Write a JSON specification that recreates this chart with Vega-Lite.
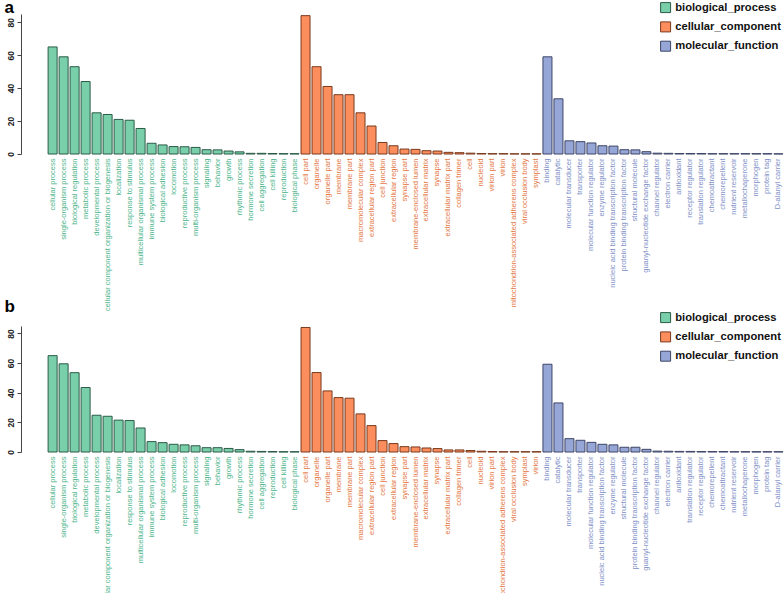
{
  "$schema": "https://vega.github.io/schema/vega-lite/v6.json",
  "background": "white",
  "padding": {"left": 4, "top": -2, "right": 0, "bottom": 0},
  "bounds": "flush",
  "spacing": 172,
  "config": {
    "view": {"stroke": null},
    "font": "Liberation Sans",
    "legend": {
      "orient": "none", "legendX": 613, "symbolType": "square", "symbolSize": 100,
      "labelFontSize": 11.2, "labelFont": "Liberation Sans", "labelFontWeight": "bold", "labelColor": "#111",
      "rowPadding": 4.3, "symbolStrokeColor": "#444", "symbolStrokeWidth": 1, "symbolOpacity": 1, "labelOffset": 4
    },
    "axisX": {
      "labelAngle": -90, "labelFontSize": 7.5, "labelFont": "Liberation Sans", "labelPadding": 4,
      "ticks": false, "domain": false, "title": null, "labelLimit": 0, "labelOverlap": false, "grid": false,
      "labelColor": {"condition": [
        {"test": "indexof(['cellular process','single-organism process','biological regulation','metabolic process','developmental process','cellular component organization or biogenesis','localization','response to stimulus','multicellular organismal process','immune system process','biological adhesion','locomotion','reproductive process','multi-organism process','signaling','behavior','growth','rhythmic process','hormone secretion','cell aggregation','cell killing','reproduction','biological phase'], datum.value) >= 0", "value": "#4DB58B"},
        {"test": "indexof(['cell part','organelle','organelle part','membrane','membrane part','macromolecular complex','extracellular region part','cell junction','extracellular region','synapse part','membrane-enclosed lumen','extracellular matrix','synapse','extracellular matrix part','collagen trimer','cell','nucleoid','virion part','virion','mitochondrion-associated adherens complex','viral occlusion body','symplast'], datum.value) >= 0", "value": "#E4773F"}
      ], "value": "#8191C8"}
    }
  },
  "datasets": {
    "a": [
      {"term": "cellular process", "ontology": "biological_process", "count": 65},
      {"term": "single-organism process", "ontology": "biological_process", "count": 59},
      {"term": "biological regulation", "ontology": "biological_process", "count": 53},
      {"term": "metabolic process", "ontology": "biological_process", "count": 44},
      {"term": "developmental process", "ontology": "biological_process", "count": 25},
      {"term": "cellular component organization or biogenesis", "ontology": "biological_process", "count": 24},
      {"term": "localization", "ontology": "biological_process", "count": 21},
      {"term": "response to stimulus", "ontology": "biological_process", "count": 20.5},
      {"term": "multicellular organismal process", "ontology": "biological_process", "count": 15.5},
      {"term": "immune system process", "ontology": "biological_process", "count": 6.5},
      {"term": "biological adhesion", "ontology": "biological_process", "count": 5.5},
      {"term": "locomotion", "ontology": "biological_process", "count": 4.5},
      {"term": "reproductive process", "ontology": "biological_process", "count": 4.4},
      {"term": "multi-organism process", "ontology": "biological_process", "count": 4},
      {"term": "signaling", "ontology": "biological_process", "count": 2.6},
      {"term": "behavior", "ontology": "biological_process", "count": 2.5},
      {"term": "growth", "ontology": "biological_process", "count": 1.8},
      {"term": "rhythmic process", "ontology": "biological_process", "count": 1.3},
      {"term": "hormone secretion", "ontology": "biological_process", "count": 0.4},
      {"term": "cell aggregation", "ontology": "biological_process", "count": 0.4},
      {"term": "cell killing", "ontology": "biological_process", "count": 0.3},
      {"term": "reproduction", "ontology": "biological_process", "count": 0.2},
      {"term": "biological phase", "ontology": "biological_process", "count": 0.2},
      {"term": "cell part", "ontology": "cellular_component", "count": 84},
      {"term": "organelle", "ontology": "cellular_component", "count": 53},
      {"term": "organelle part", "ontology": "cellular_component", "count": 41},
      {"term": "membrane", "ontology": "cellular_component", "count": 36},
      {"term": "membrane part", "ontology": "cellular_component", "count": 36},
      {"term": "macromolecular complex", "ontology": "cellular_component", "count": 25},
      {"term": "extracellular region part", "ontology": "cellular_component", "count": 17},
      {"term": "cell junction", "ontology": "cellular_component", "count": 7},
      {"term": "extracellular region", "ontology": "cellular_component", "count": 5},
      {"term": "synapse part", "ontology": "cellular_component", "count": 3},
      {"term": "membrane-enclosed lumen", "ontology": "cellular_component", "count": 2.8},
      {"term": "extracellular matrix", "ontology": "cellular_component", "count": 2},
      {"term": "synapse", "ontology": "cellular_component", "count": 1.8},
      {"term": "extracellular matrix part", "ontology": "cellular_component", "count": 1},
      {"term": "collagen trimer", "ontology": "cellular_component", "count": 0.8},
      {"term": "cell", "ontology": "cellular_component", "count": 0.5},
      {"term": "nucleoid", "ontology": "cellular_component", "count": 0.3},
      {"term": "virion part", "ontology": "cellular_component", "count": 0.2},
      {"term": "virion", "ontology": "cellular_component", "count": 0.2},
      {"term": "mitochondrion-associated adherens complex", "ontology": "cellular_component", "count": 0.1},
      {"term": "viral occlusion body", "ontology": "cellular_component", "count": 0.1},
      {"term": "symplast", "ontology": "cellular_component", "count": 0.1},
      {"term": "binding", "ontology": "molecular_function", "count": 59},
      {"term": "catalytic", "ontology": "molecular_function", "count": 33.5},
      {"term": "molecular transducer", "ontology": "molecular_function", "count": 8},
      {"term": "transporter", "ontology": "molecular_function", "count": 7.5},
      {"term": "molecular function regulator", "ontology": "molecular_function", "count": 6.7},
      {"term": "enzyme regulator", "ontology": "molecular_function", "count": 5},
      {"term": "nucleic acid binding transcription factor", "ontology": "molecular_function", "count": 4.8},
      {"term": "protein binding transcription factor", "ontology": "molecular_function", "count": 2.6},
      {"term": "structural molecule", "ontology": "molecular_function", "count": 2.5},
      {"term": "guanyl-nucleotide exchange factor", "ontology": "molecular_function", "count": 1.4},
      {"term": "channel regulator", "ontology": "molecular_function", "count": 0.5},
      {"term": "electron carrier", "ontology": "molecular_function", "count": 0.4},
      {"term": "antioxidant", "ontology": "molecular_function", "count": 0.3},
      {"term": "receptor regulator", "ontology": "molecular_function", "count": 0.3},
      {"term": "translation regulator", "ontology": "molecular_function", "count": 0.3},
      {"term": "chemoattractant", "ontology": "molecular_function", "count": 0.2},
      {"term": "chemorepellent", "ontology": "molecular_function", "count": 0.2},
      {"term": "nutrient reservoir", "ontology": "molecular_function", "count": 0.2},
      {"term": "metallochaperone", "ontology": "molecular_function", "count": 0.2},
      {"term": "morphogen", "ontology": "molecular_function", "count": 0.2},
      {"term": "protein tag", "ontology": "molecular_function", "count": 0.2},
      {"term": "D-alanyl carrier", "ontology": "molecular_function", "count": 0.1}
    ],
    "b": [
      {"term": "cellular process", "ontology": "biological_process", "count": 65},
      {"term": "single-organism process", "ontology": "biological_process", "count": 59.5},
      {"term": "biological regulation", "ontology": "biological_process", "count": 53.5},
      {"term": "metabolic process", "ontology": "biological_process", "count": 43.5},
      {"term": "developmental process", "ontology": "biological_process", "count": 24.8},
      {"term": "cellular component organization or biogenesis", "ontology": "biological_process", "count": 24.1},
      {"term": "localization", "ontology": "biological_process", "count": 21.5},
      {"term": "response to stimulus", "ontology": "biological_process", "count": 21.2},
      {"term": "multicellular organismal process", "ontology": "biological_process", "count": 16.2},
      {"term": "immune system process", "ontology": "biological_process", "count": 7},
      {"term": "biological adhesion", "ontology": "biological_process", "count": 6.3},
      {"term": "locomotion", "ontology": "biological_process", "count": 5.2},
      {"term": "reproductive process", "ontology": "biological_process", "count": 4.8},
      {"term": "multi-organism process", "ontology": "biological_process", "count": 4.2},
      {"term": "signaling", "ontology": "biological_process", "count": 2.9},
      {"term": "behavior", "ontology": "biological_process", "count": 2.9},
      {"term": "growth", "ontology": "biological_process", "count": 2.4},
      {"term": "rhythmic process", "ontology": "biological_process", "count": 1.6},
      {"term": "hormone secretion", "ontology": "biological_process", "count": 0.5},
      {"term": "cell aggregation", "ontology": "biological_process", "count": 0.4},
      {"term": "reproduction", "ontology": "biological_process", "count": 0.3},
      {"term": "cell killing", "ontology": "biological_process", "count": 0.2},
      {"term": "biological phase", "ontology": "biological_process", "count": 0.2},
      {"term": "cell part", "ontology": "cellular_component", "count": 84},
      {"term": "organelle", "ontology": "cellular_component", "count": 53.6},
      {"term": "organelle part", "ontology": "cellular_component", "count": 41.2},
      {"term": "membrane", "ontology": "cellular_component", "count": 36.7},
      {"term": "membrane part", "ontology": "cellular_component", "count": 36.3},
      {"term": "macromolecular complex", "ontology": "cellular_component", "count": 25.7},
      {"term": "extracellular region part", "ontology": "cellular_component", "count": 17.8},
      {"term": "cell junction", "ontology": "cellular_component", "count": 7.7},
      {"term": "extracellular region", "ontology": "cellular_component", "count": 5.7},
      {"term": "synapse part", "ontology": "cellular_component", "count": 3.6},
      {"term": "membrane-enclosed lumen", "ontology": "cellular_component", "count": 3.4},
      {"term": "extracellular matrix", "ontology": "cellular_component", "count": 2.7},
      {"term": "synapse", "ontology": "cellular_component", "count": 2.3},
      {"term": "extracellular matrix part", "ontology": "cellular_component", "count": 1.4},
      {"term": "collagen trimer", "ontology": "cellular_component", "count": 1.4},
      {"term": "cell", "ontology": "cellular_component", "count": 1},
      {"term": "nucleoid", "ontology": "cellular_component", "count": 0.5},
      {"term": "virion part", "ontology": "cellular_component", "count": 0.3},
      {"term": "mitochondrion-associated adherens complex", "ontology": "cellular_component", "count": 0.2},
      {"term": "viral occlusion body", "ontology": "cellular_component", "count": 0.2},
      {"term": "symplast", "ontology": "cellular_component", "count": 0.2},
      {"term": "virion", "ontology": "cellular_component", "count": 0.2},
      {"term": "binding", "ontology": "molecular_function", "count": 59.2},
      {"term": "catalytic", "ontology": "molecular_function", "count": 33.1},
      {"term": "molecular transducer", "ontology": "molecular_function", "count": 9},
      {"term": "transporter", "ontology": "molecular_function", "count": 7.9},
      {"term": "molecular function regulator", "ontology": "molecular_function", "count": 6.5},
      {"term": "nucleic acid binding transcription factor", "ontology": "molecular_function", "count": 5.2},
      {"term": "enzyme regulator", "ontology": "molecular_function", "count": 4.8},
      {"term": "structural molecule", "ontology": "molecular_function", "count": 3.2},
      {"term": "protein binding transcription factor", "ontology": "molecular_function", "count": 3.2},
      {"term": "guanyl-nucleotide exchange factor", "ontology": "molecular_function", "count": 1.8},
      {"term": "channel regulator", "ontology": "molecular_function", "count": 0.6},
      {"term": "electron carrier", "ontology": "molecular_function", "count": 0.5},
      {"term": "antioxidant", "ontology": "molecular_function", "count": 0.4},
      {"term": "translation regulator", "ontology": "molecular_function", "count": 0.4},
      {"term": "receptor regulator", "ontology": "molecular_function", "count": 0.3},
      {"term": "chemorepellent", "ontology": "molecular_function", "count": 0.3},
      {"term": "chemoattractant", "ontology": "molecular_function", "count": 0.3},
      {"term": "nutrient reservoir", "ontology": "molecular_function", "count": 0.2},
      {"term": "metallochaperone", "ontology": "molecular_function", "count": 0.2},
      {"term": "morphogen", "ontology": "molecular_function", "count": 0.2},
      {"term": "protein tag", "ontology": "molecular_function", "count": 0.2},
      {"term": "D-alanyl carrier", "ontology": "molecular_function", "count": 0.2}
    ]
  },
  "vconcat": [
    {
      "width": 737,
      "height": 140,
      "data": {"name": "a"},
      "mark": {"type": "bar", "strokeWidth": 1},
      "encoding": {
        "x": {"field": "term", "type": "nominal", "sort": null, "scale": {"paddingInner": 0.18, "paddingOuter": 0.1}},
        "y": {"field": "count", "type": "quantitative", "scale": {"domain": [0, 85], "nice": false},
          "axis": {"values": [0, 20, 40, 60, 80], "grid": false, "offset": 26, "labelAngle": -90,
            "labelAlign": "center", "labelBaseline": "bottom", "labelFontSize": 8.5, "labelFontWeight": "bold",
            "labelColor": "#222", "domainColor": "#444", "tickColor": "#444", "tickSize": 4, "labelPadding": 2,
            "title": "a", "titleAngle": 0, "titleFontSize": 17, "titleFontWeight": "bold", "titleFont": "Liberation Sans",
            "titleColor": "#000", "titleAlign": "left", "titleBaseline": "alphabetic", "titleX": -17, "titleY": -1.5}},
        "fill": {"field": "ontology", "type": "nominal", "scale": {"domain": ["biological_process", "cellular_component", "molecular_function"], "range": ["#7ACFAB", "#FC8D5C", "#96A6D6"]}, "legend": {"title": null, "legendY": -12}},
        "stroke": {"field": "ontology", "type": "nominal", "scale": {"domain": ["biological_process", "cellular_component", "molecular_function"], "range": ["#2B5B47", "#7A3A1E", "#3E4668"]}, "legend": null}
      }
    },
    {
      "width": 737,
      "height": 126,
      "data": {"name": "b"},
      "mark": {"type": "bar", "strokeWidth": 1},
      "encoding": {
        "x": {"field": "term", "type": "nominal", "sort": null, "scale": {"paddingInner": 0.18, "paddingOuter": 0.1}},
        "y": {"field": "count", "type": "quantitative", "scale": {"domain": [0, 85], "nice": false},
          "axis": {"values": [0, 20, 40, 60, 80], "grid": false, "offset": 26, "labelAngle": -90,
            "labelAlign": "center", "labelBaseline": "bottom", "labelFontSize": 8.5, "labelFontWeight": "bold",
            "labelColor": "#222", "domainColor": "#444", "tickColor": "#444", "tickSize": 4, "labelPadding": 2,
            "title": "b", "titleAngle": 0, "titleFontSize": 17, "titleFontWeight": "bold", "titleFont": "Liberation Sans",
            "titleColor": "#000", "titleAlign": "left", "titleBaseline": "alphabetic", "titleX": -17, "titleY": -15}},
        "fill": {"field": "ontology", "type": "nominal", "scale": {"domain": ["biological_process", "cellular_component", "molecular_function"], "range": ["#7ACFAB", "#FC8D5C", "#96A6D6"]}, "legend": {"title": null, "legendY": -14}},
        "stroke": {"field": "ontology", "type": "nominal", "scale": {"domain": ["biological_process", "cellular_component", "molecular_function"], "range": ["#2B5B47", "#7A3A1E", "#3E4668"]}, "legend": null}
      }
    }
  ],
  "resolve": {"scale": {"fill": "independent", "stroke": "independent"}}
}
